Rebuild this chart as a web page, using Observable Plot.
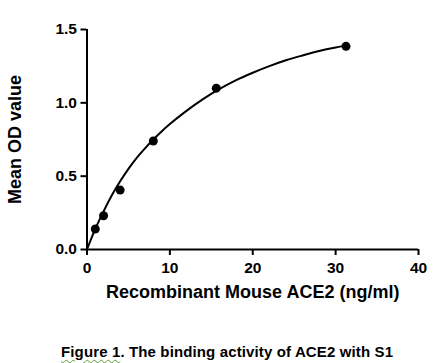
<!DOCTYPE html>
<html>
<head>
<meta charset="utf-8">
<script src="https://cdn.jsdelivr.net/npm/d3@7"></script>
<script src="https://cdn.jsdelivr.net/npm/@observablehq/plot@0.6"></script>
<style>
  html, body { margin: 0; padding: 0; background: #fff; }
  #wrap { position: relative; width: 435px; height: 363px; font-family: "Liberation Sans", Arial, sans-serif; }
  #caption { position: absolute; left: 61px; top: 343px; font-size: 15px; line-height: 17px; letter-spacing: 0.13px; font-weight: bold; color: #000; white-space: nowrap; }
  #caption .u { text-decoration: underline wavy #5a9a3a; text-decoration-thickness: 1px; text-underline-offset: 2px; }
</style>
</head>
<body>
<div id="wrap"><div id="chart"></div><div id="caption"><span class="u">Figure 1</span>. The binding activity of ACE2 with S1</div></div>
<script>
// Measured points (concentration ng/ml, mean OD)
const conc = [1, 2, 4, 8, 15.6, 31.25];
const od = [0.14, 0.23, 0.405, 0.74, 1.10, 1.385];

// Fitted curve
const curveX = [0, 1, 2, 3, 4, 5, 6, 7, 8, 9, 10, 12, 14, 16, 18, 20, 22, 24, 26, 28, 30, 31.25];
const curveY = [0, 0.14, 0.26, 0.37, 0.465, 0.55, 0.625, 0.69, 0.75, 0.805, 0.855, 0.945, 1.025, 1.095, 1.155, 1.205, 1.25, 1.29, 1.323, 1.353, 1.377, 1.39];

const xTicks = [0, 10, 20, 30, 40];
const yTicks = [0, 0.5, 1.0, 1.5];

const points = conc.map((x, i) => ({x, y: od[i]}));
const curve = curveX.map((x, i) => ({x, y: curveY[i]}));

const chart = Plot.plot({
  width: 435,
  height: 320,
  marginLeft: 86.5,
  marginRight: 17,
  marginTop: 29,
  marginBottom: 71,
  style: {fontFamily: "'Liberation Sans', Arial, sans-serif", fontWeight: "bold", fontSize: "15px", color: "#000", background: "#fff"},
  x: {domain: [0, 40]},
  y: {domain: [0, 1.5]},
  marks: [
    Plot.axisX({ticks: xTicks, tickSize: 6, tickPadding: 6, strokeWidth: 2, tickFormat: d => d, label: null, fontSize: 15.5}),
    Plot.axisY({ticks: yTicks, tickSize: 6, tickPadding: 4, strokeWidth: 2, tickFormat: d3.format(".1f"), label: null, fontSize: 15.5}),
    Plot.ruleY([0], {stroke: "#000", strokeWidth: 2}),
    Plot.ruleX([0], {stroke: "#000", strokeWidth: 2}),
    Plot.line(curve, {x: "x", y: "y", curve: "monotone-x", stroke: "#000", strokeWidth: 2}),
    Plot.dot(points, {x: "x", y: "y", r: 4.5, fill: "#000", stroke: "none"}),
    Plot.text(["Recombinant Mouse ACE2 (ng/ml)"], {frameAnchor: "bottom", dy: 48, fontSize: 18, text: d => d}),
    Plot.text(["Mean OD value"], {frameAnchor: "left", textAnchor: "middle", dx: -71.5, rotate: -90, fontSize: 18, text: d => d})
  ]
});
document.getElementById("chart").appendChild(chart);
</script>
</body>
</html>
